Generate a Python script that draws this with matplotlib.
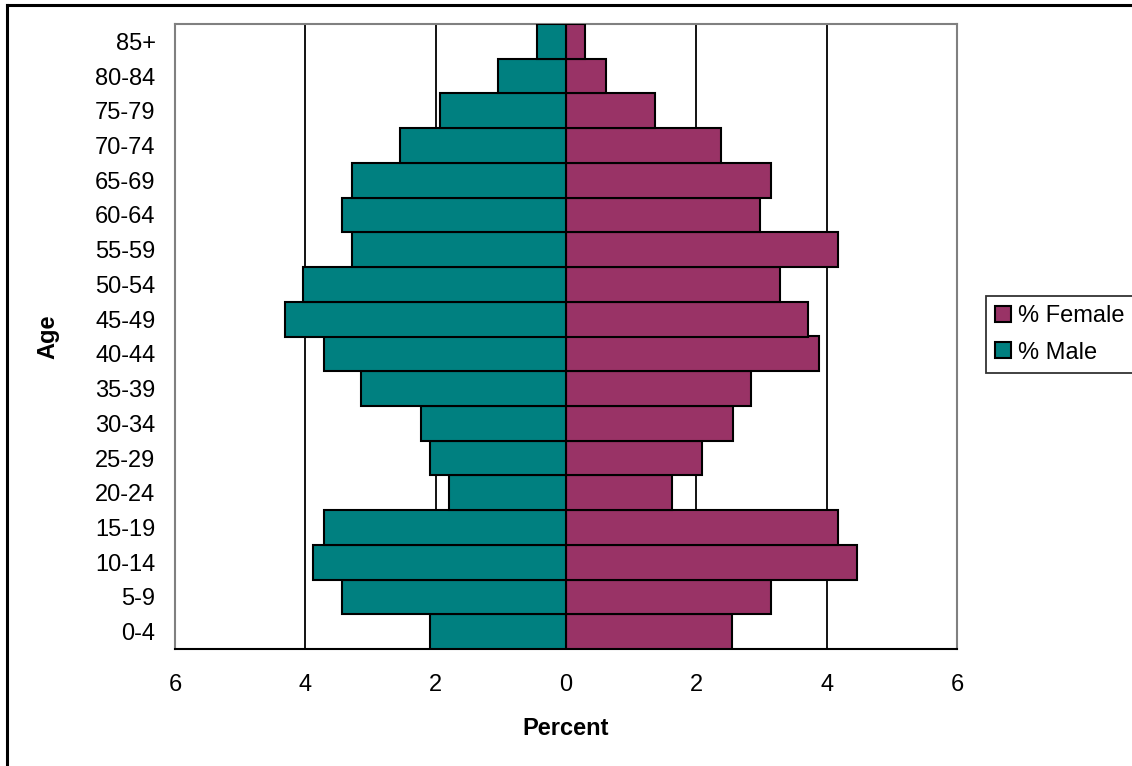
import numpy as np
import matplotlib.pyplot as plt
from matplotlib.lines import Line2D

plt.rcParams['font.family'] = ['Liberation Sans', 'DejaVu Sans']

ages = ["0-4", "5-9", "10-14", "15-19", "20-24", "25-29", "30-34", "35-39", "40-44",
        "45-49", "50-54", "55-59", "60-64", "65-69", "70-74", "75-79", "80-84", "85+"]
male = [2.08, 3.43, 3.88, 3.71, 1.80, 2.08, 2.22, 3.14, 3.71,
        4.31, 4.03, 3.28, 3.43, 3.28, 2.54, 1.94, 1.05, 0.45]
female = [2.55, 3.14, 4.47, 4.18, 1.63, 2.09, 2.56, 2.84, 3.89,
          3.72, 3.29, 4.18, 2.98, 3.15, 2.38, 1.36, 0.61, 0.29]
ticks = [-6, -4, -2, 0, 2, 4, 6]

W, H = 1132, 766
fs = 17
fig = plt.figure(figsize=(W / 100, H / 100), dpi=100)
ax = fig.add_axes([175 / W, 1 - 649 / H, (957 - 175) / W, (649 - 24) / H])

y = np.arange(len(ages))
ax.barh(y, female, height=1.0, color="#993366", edgecolor="black", linewidth=1.5,
        label="% Female", zorder=3)
ax.barh(y, -np.array(male), height=1.0, color="#008080", edgecolor="black", linewidth=1.5,
        label="% Male", zorder=3)

ax.set_xlim(-6, 6)
ax.set_ylim(-0.5, len(ages) - 0.5)
ax.set_xticks(ticks)
ax.set_xticklabels([str(abs(t)) for t in ticks], fontsize=fs)
ax.set_yticks(y)
ax.set_yticklabels(ages, fontsize=fs)
ax.tick_params(axis="x", length=0, pad=18)
ax.tick_params(axis="y", length=0, pad=14)

for g in [-4, -2, 2, 4]:
    ax.axvline(g, color="black", linewidth=1.3, zorder=1)

for s in ["left", "top", "right"]:
    ax.spines[s].set_color("#808080")
    ax.spines[s].set_linewidth(1.5)
ax.spines["bottom"].set_color("black")
ax.spines["bottom"].set_linewidth(1.5)

ax.set_xlabel("Percent", fontsize=fs, fontweight="bold", labelpad=15)
ax.set_ylabel("Age", fontsize=fs, fontweight="bold", labelpad=26)

leg = fig.legend(loc="upper left", bbox_to_anchor=(986 / W, 1 - 296 / H), fontsize=fs,
                 frameon=True, fancybox=False, edgecolor="black", handlelength=0.65,
                 handleheight=0.65, handletextpad=0.3, borderpad=0.4, labelspacing=0.6,
                 borderaxespad=0)
leg.get_frame().set_linewidth(1.3)

# outer chart border (only left and top are inside the crop)
fig.add_artist(Line2D([7 / W, 7 / W], [0, 1 - 5 / H], color="black", linewidth=2.2))
fig.add_artist(Line2D([7 / W, 1], [1 - 5 / H, 1 - 5 / H], color="black", linewidth=2.2))

fig.savefig("out.png", dpi=100)
